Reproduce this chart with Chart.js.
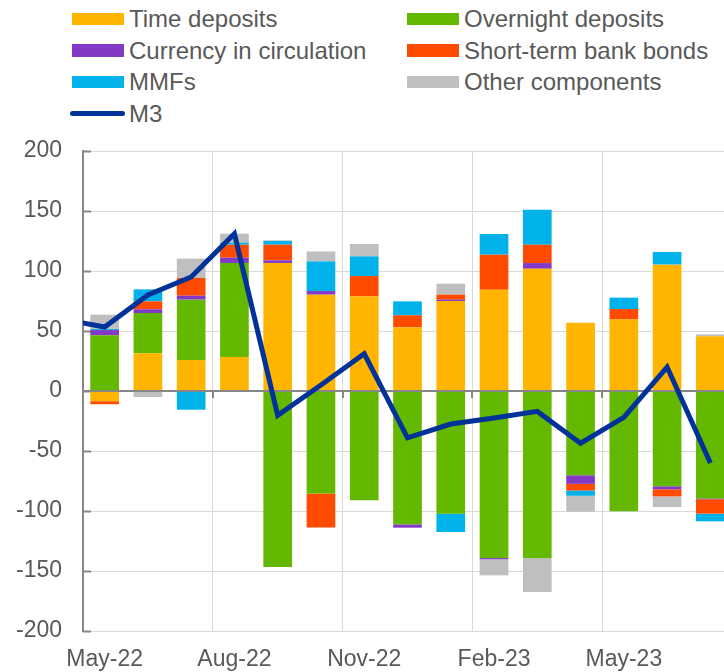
<!DOCTYPE html>
<html>
<head>
<meta charset="utf-8">
<script src="https://cdn.jsdelivr.net/npm/chart.js@4/dist/chart.umd.min.js"></script>
<style>
  html, body { margin: 0; padding: 0; background: #fff; overflow: hidden; }
  body { width: 724px; height: 672px; position: relative; font-family: "Liberation Sans", Arial, sans-serif; }
  #legend { position: absolute; left: 0; top: 3px; width: 724px; color: #595959; font-size: 24px; }
  .item { position: absolute; height: 31.5px; line-height: 31.5px; white-space: nowrap; }
  .swatch { position: absolute; left: 0; top: 9.5px; width: 52px; height: 12.5px; }
  .swatch.line { left: -2px; top: 13.5px; width: 55px; height: 5px; border-radius: 3px; }
  .label { position: absolute; left: 57px; top: 0; }
  #chart { position: absolute; left: 0; top: 130px; }
</style>
</head>
<body>
<div id="legend"></div>
<canvas id="chart" width="740" height="542"></canvas>
<script>
// Monthly flows, Apr-22 is only there so the M3 line runs in from the left edge
const months = ['Apr-22', 'May-22', 'Jun-22', 'Jul-22', 'Aug-22', 'Sep-22', 'Oct-22', 'Nov-22',
  'Dec-22', 'Jan-23', 'Feb-23', 'Mar-23', 'Apr-23', 'May-23', 'Jun-23', 'Jul-23']

const timeDeposits = [null, -8.5, 31.4, 25.8, 28.3, 106.7, 80.3, 78.9, 53.1, 75, 84.4, 101.9, 56.9, 59.7, 105.3, 45.6]
const overnightDeposits = [null, 46.4, 33.6, 50.3, 78.4, -146.7, -85.5, -91.1, -111.1, -102.2, -139.2, -139.2, -70.2, -100.3, -79.4, -89.5]
const currency = [null, 4.4, 3.1, 3.3, 4.4, 2.2, 3, null, -2.8, 1.1, -1, 4.7, -7.2, null, -2.5, -0.7]
const bankBonds = [null, -2.5, 6.6, 14.8, 10.8, 13, -28.3, 16.9, 10, 4.2, 29.2, 15.3, -5.5, 8.6, -5.9, -12]
const mmfs = [null, 0.8, 10, -15.6, 1.7, 3.1, 24.7, 16.4, 11.6, -15.3, 17.2, 29.2, -4.4, 9.5, 10.5, -6.4]
const otherComponents = [null, 12, -5, 16.1, 7.5, 0.6, 8.3, 10.3, null, 9.1, -13.4, -28.3, -13.3, null, -8.9, 1.6]
const m3 = [60, 53.3, 80, 95, 131, -20.3, 5, 31, -39, -27.5, -22.5, -17, -43.5, -22, 20, -60]

const yTicks = [-200, -150, -100, -50, 0, 50, 100, 150, 200]

const TEXT = '#595959'
const AXIS = '#868686'
const GRID = '#d9d9d9'

Chart.defaults.font.family = '"Liberation Sans", Arial, sans-serif'
Chart.defaults.color = TEXT

const barSeries = [
  { label: 'Time deposits', data: timeDeposits, color: '#ffb400' },
  { label: 'Overnight deposits', data: overnightDeposits, color: '#65b800' },
  { label: 'Currency in circulation', data: currency, color: '#8139c6' },
  { label: 'Short-term bank bonds', data: bankBonds, color: '#ff4b00' },
  { label: 'MMFs', data: mmfs, color: '#00b1ea' },
  { label: 'Other components', data: otherComponents, color: '#bfbfbf' }
]

const datasets = barSeries.map(s => ({
  type: 'bar',
  label: s.label,
  data: s.data,
  backgroundColor: s.color,
  stack: 'm3',
  order: 1,
  categoryPercentage: 1,
  barPercentage: 0.663
}))

datasets.push({
  type: 'line',
  label: 'M3',
  data: m3,
  borderColor: '#003299',
  borderWidth: 5,
  borderJoinStyle: 'miter',
  pointRadius: 0,
  tension: 0,
  order: 0,
  clip: 0
})

// Zero axis on top of the bars, small inward tick marks like the original
const axisMarks = {
  id: 'axisMarks',
  beforeDatasetsDraw(chart) {
    const { ctx, chartArea, scales: { y } } = chart
    ctx.save()
    ctx.strokeStyle = AXIS
    ctx.lineWidth = 2
    yTicks.forEach(v => {
      const py = Math.round(y.getPixelForValue(v)) + 0.5
      ctx.beginPath()
      ctx.moveTo(chartArea.left, py)
      ctx.lineTo(chartArea.left + 8, py)
      ctx.stroke()
    })
    ctx.restore()
  },
  beforeDatasetDraw(chart, args) {
    if (args.meta.type !== 'line') return
    const { ctx, chartArea, scales: { x, y } } = chart
    const y0 = Math.round(y.getPixelForValue(0))
    const half = (x.getPixelForValue(2) - x.getPixelForValue(1)) / 2
    ctx.save()
    ctx.strokeStyle = AXIS
    ctx.lineWidth = 2
    ctx.beginPath()
    ctx.moveTo(chartArea.left, y0)
    ctx.lineTo(chartArea.right, y0)
    ctx.stroke()
    for (let i = 4; i < months.length; i += 3) {
      const px = Math.round(x.getPixelForValue(i) - half)
      ctx.beginPath()
      ctx.moveTo(px, y0)
      ctx.lineTo(px, y0 + 7)
      ctx.stroke()
    }
    ctx.restore()
  }
}

new Chart(document.getElementById('chart'), {
  type: 'bar',
  data: { labels: months, datasets: datasets },
  plugins: [axisMarks],
  options: {
    responsive: false,
    animation: false,
    layout: { padding: { top: 21, right: 8, left: 0, bottom: 0 } },
    plugins: {
      legend: { display: false },
      tooltip: { enabled: false }
    },
    scales: {
      x: {
        stacked: true,
        min: 'May-22',
        afterFit: s => { s.height = 41 },
        border: { display: false },
        grid: {
          offset: true,
          drawTicks: false,
          lineWidth: 1,
          color: c => (c.index % 3 === 0 ? GRID : 'rgba(0,0,0,0)')
        },
        ticks: {
          autoSkip: false,
          maxRotation: 0,
          minRotation: 0,
          padding: 15,
          color: TEXT,
          font: { size: 23 },
          callback: function (value, index) {
            return index % 3 === 0 ? this.getLabelForValue(value) : ''
          }
        }
      },
      y: {
        stacked: true,
        min: -200,
        max: 200,
        // fixed axis width, and no extra room above the top label
        afterFit: s => {
          s.width = 83
          s.paddingTop = 0
          s.paddingBottom = 0
        },
        border: { display: true, color: AXIS, width: 2 },
        grid: { color: GRID, lineWidth: 1, drawTicks: false },
        ticks: {
          stepSize: 50,
          padding: 21,
          color: TEXT,
          font: { size: 23 }
        }
      }
    }
  }
})

// Two-column legend, same layout as the original figure
const legendItems = barSeries.map(s => ({ label: s.label, color: s.color, line: false }))
legendItems.push({ label: 'M3', color: '#003299', line: true })
const legend = document.getElementById('legend')
legendItems.forEach((item, i) => {
  const el = document.createElement('div')
  el.className = 'item'
  el.style.left = (i % 2 === 0 ? 72 : 407) + 'px'
  el.style.top = (Math.floor(i / 2) * 31.5) + 'px'
  el.innerHTML = '<span class="swatch' + (item.line ? ' line' : '') + '" style="background:' + item.color +
    '"></span><span class="label">' + item.label + '</span>'
  legend.appendChild(el)
})
</script>
</body>
</html>
